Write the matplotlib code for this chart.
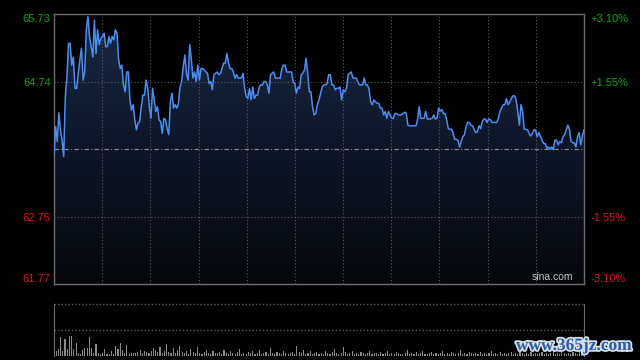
import numpy as np
import matplotlib.pyplot as plt
import matplotlib.patheffects as pe
from matplotlib.colors import LinearSegmentedColormap

# intraday price (open -> close)
prices = [
    63.64, 64.08, 63.86, 64.28, 64.03, 63.88, 63.64, 64.52, 64.81, 65.30,
    65.30, 64.98, 65.10, 64.64, 64.64, 64.86, 65.06, 65.23, 64.76, 64.88,
    65.50, 65.69, 65.40, 65.25, 65.10, 65.64, 65.15, 65.50, 65.28, 65.37,
    65.40, 65.45, 65.25, 65.25, 65.40, 65.30, 65.40, 65.35, 65.50, 65.45,
    65.06, 64.93, 64.98, 64.69, 64.59, 64.88, 64.88, 64.47, 64.32, 64.40,
    64.18, 64.03, 64.13, 64.15, 64.37, 64.54, 64.54, 64.76, 64.64, 64.37,
    64.20, 64.64, 64.47, 64.30, 64.37,
    64.18, 64.15, 63.98, 64.20, 64.18, 64.05, 63.96, 64.44, 64.57, 64.35,
    64.40, 64.35, 64.42, 64.66, 64.74, 64.96, 65.13, 64.86, 64.76, 65.28,
    65.06, 64.79, 64.88, 64.74, 64.98, 64.76, 64.93, 64.93, 64.91, 64.88,
    64.86, 64.71, 64.74, 64.62, 64.84, 64.86, 64.88, 64.84, 64.86, 64.93,
    65.01, 65.01, 65.15, 65.01, 64.93, 64.93, 64.88, 64.79, 64.84, 64.79,
    64.79, 64.79, 64.86, 64.64, 64.52, 64.49, 64.64, 64.47, 64.66, 64.49,
    64.54, 64.54, 64.66, 64.69, 64.69, 64.74, 64.74,
    64.69, 64.57, 64.84, 64.86, 64.88, 64.79, 64.79, 64.79, 64.79, 64.93,
    64.98, 64.98, 64.88, 64.88, 64.88, 64.88, 64.74, 64.71, 64.57, 64.66,
    64.64, 64.84, 64.86, 64.91, 65.08, 64.86, 64.59, 64.59, 64.37, 64.25,
    64.27, 64.40, 64.47, 64.57, 64.66, 64.69, 64.69, 64.71, 64.84, 64.84,
    64.69, 64.69, 64.62, 64.64, 64.64, 64.66, 64.47, 64.62, 64.59, 64.64,
    64.84, 64.86, 64.88, 64.79, 64.79, 64.79, 64.74, 64.69, 64.69, 64.69,
    64.79, 64.69, 64.69, 64.62, 64.44, 64.40, 64.47, 64.44, 64.42, 64.42,
    64.35,
    64.35, 64.25, 64.30, 64.20, 64.30, 64.25, 64.20, 64.20, 64.27, 64.27,
    64.25, 64.25, 64.25, 64.27, 64.29, 64.27, 64.10, 64.09, 64.09, 64.09,
    64.09, 64.09, 64.18, 64.37, 64.20, 64.20, 64.20, 64.30, 64.19, 64.19,
    64.19, 64.20, 64.25, 64.19, 64.20, 64.35, 64.30, 64.33, 64.27, 64.27,
    64.18, 64.05, 64.04, 64.04, 63.98, 63.89, 63.89, 63.88, 63.78, 63.86,
    63.93, 63.96, 64.08, 64.14, 64.14, 64.10, 64.09, 64.04, 63.99, 64.00,
    64.09, 64.05,
    64.15, 64.19, 64.19, 64.14, 64.19, 64.18, 64.14, 64.14, 64.14, 64.14,
    64.20, 64.30, 64.35, 64.40, 64.40, 64.49, 64.40, 64.44, 64.49, 64.53,
    64.53, 64.47, 64.30, 64.10, 64.40, 64.30, 64.04, 64.04, 64.03, 63.98,
    63.94, 63.98, 64.03, 64.03, 63.93, 63.99, 63.94, 63.88, 63.83, 63.83,
    63.76, 63.78, 63.75, 63.78, 63.74, 63.88, 63.88, 63.81, 63.86, 63.84,
    63.93, 63.96, 64.03, 64.10, 64.04, 63.86, 63.84, 63.84, 63.78, 63.93,
    63.99, 63.81, 63.94, 64.03,
]

# per-minute volume (relative)
volumes = [
    52, 5, 7, 19, 5, 17, 7, 20, 20, 7, 13, 3, 2, 6, 8, 8, 19, 8, 3, 12,
    3, 2, 3, 7, 2, 2, 5, 2, 10, 7, 13, 6, 3, 11, 2, 3, 3, 3, 4, 6,
    3, 5, 4, 3, 5, 8, 6,
    4, 9, 3, 5, 12, 4, 3, 8, 3, 6, 10, 4, 3, 5, 2, 7, 4, 3, 9, 3,
    2, 4, 6, 3, 2, 5, 3,
    3, 4, 2, 6, 3, 2, 5, 3, 2, 4, 7, 2, 3, 2, 4, 3, 5, 2, 3, 6,
    2, 3, 4, 2, 8, 3, 2, 4, 3, 2, 5, 3, 2, 3, 4, 2,
    10, 4, 3, 6, 2, 3, 5, 2, 3, 4, 2, 3, 2, 5, 3, 2, 4, 7, 3, 2,
    3, 9, 4, 2, 3, 5, 2, 3, 2, 4, 3, 2, 3, 5, 2, 3,
    3, 2, 4, 2, 3, 5, 2, 3, 2, 4, 3, 2, 2, 3, 6, 2, 3, 2, 4, 2,
    3, 5, 2, 2, 3, 4, 2, 3, 2, 3, 5, 2, 3, 2, 4, 3, 2, 3, 6, 2,
    3, 2, 4, 3, 2,
    3, 2, 4, 2, 3, 2, 3, 5, 2, 3, 2, 4, 2, 3, 2, 3, 4, 2, 3, 2,
    5, 3, 2, 3, 2, 4, 2, 3, 2, 3, 4, 2, 3, 2, 3, 5, 2, 3, 2, 4,
    3, 2, 3, 2, 4, 3, 2, 5, 3, 4,
]

prev_close = 63.75
price_ticks = [65.73, 64.74, 63.75, 62.76, 61.77]
left_labels = ['65.73', '64.74', '', '62.76', '61.77']
right_labels = ['+3.10%', '+1.55%', '', '-1.55%', '-3.10%']

up_color = '#12a012'
down_color = '#d81818'
grid_color = '#5c5c5c'
frame_color = '#6c6c6c'

plt.rcParams['font.family'] = ['Liberation Sans', 'DejaVu Sans']

fig = plt.figure(figsize=(6.4, 3.6), dpi=100, facecolor='black')
ax = fig.add_axes([54/640, 76/360, 530/640, 270/360], facecolor='black')
axv = fig.add_axes([54/640, 4/360, 530/640, 52/360], facecolor='black')

t = np.linspace(0, 240, len(prices))
ax.set_xlim(0, 240)
ax.set_ylim(price_ticks[-1], price_ticks[0])

# gradient fill under the price line
fill = ax.fill_between(t, prices, price_ticks[-1], color='none')
cmap = LinearSegmentedColormap.from_list('fade', ['#05070b', '#0e1628', '#1a2944'])
grad = np.linspace(0, 1, 256).reshape(-1, 1)
img = ax.imshow(grad, cmap=cmap, aspect='auto', origin='lower',
                extent=[0, 240, price_ticks[-1], max(prices)], zorder=1)
img.set_clip_path(fill.get_paths()[0], transform=ax.transData)
ax.set_ylim(price_ticks[-1], price_ticks[0])

ax.plot(t, prices, color='#4b8df0', lw=1.1, zorder=3)

# grid
for gx in np.linspace(0, 240, 12)[1:-1]:
    ax.axvline(gx, color=grid_color, lw=0.8, ls=(0, (1, 2)), zorder=2)
for gy in [price_ticks[1], price_ticks[3]]:
    ax.axhline(gy, color=grid_color, lw=0.8, ls=(0, (1, 2)), zorder=2)
ax.axhline(prev_close, color='#8e8e8e', lw=0.8, ls=(0, (4, 2, 1, 2)), zorder=2)

for s in ax.spines.values():
    s.set_color(frame_color)
    s.set_linewidth(1)
ax.set_xticks([])

ax.set_yticks(price_ticks)
ax.set_yticklabels(left_labels)
ax.tick_params(axis='y', length=0, pad=2.5, labelsize=8)
colors = [up_color, up_color, up_color, down_color, down_color]
for lab, c in zip(ax.get_yticklabels(), colors):
    lab.set_color(c)
ax.get_yticklabels()[0].set_verticalalignment('top')
ax.get_yticklabels()[-1].set_verticalalignment('bottom')

axr = ax.twinx()
axr.set_ylim(ax.get_ylim())
axr.set_yticks(price_ticks)
axr.set_yticklabels(right_labels)
axr.tick_params(axis='y', length=0, pad=4.5, labelsize=8)
for lab, c in zip(axr.get_yticklabels(), colors):
    lab.set_color(c)
axr.get_yticklabels()[0].set_verticalalignment('top')
axr.get_yticklabels()[-1].set_verticalalignment('bottom')
for s in axr.spines.values():
    s.set_visible(False)

ax.text(0.979, 0.006, 'sina.com', transform=ax.transAxes, ha='right', va='bottom',
        fontsize=7.5, color='#c4c4c4', zorder=4)

# volume panel
tv = np.linspace(0, 240, len(volumes))
axv.bar(tv, volumes, width=0.5, color='#8a8a8a', align='center')
axv.set_xlim(0, 240)
vmax = max(volumes)
axv.set_ylim(0, vmax)
axv.axhline(vmax, color=grid_color, lw=1, ls=(0, (1, 1.5)), clip_on=False)
axv.axhline(vmax / 2, color=grid_color, lw=1, ls=(0, (1, 1.5)))
for side in ['top', 'bottom']:
    axv.spines[side].set_visible(False)
for side in ['left', 'right']:
    axv.spines[side].set_color(frame_color)
axv.set_xticks([])
axv.set_yticks([])

fig.text(574/640, 1 - 346/360, 'www.365jz.com', ha='center', va='center',
         fontsize=12.5, fontweight='bold', family='Liberation Serif', color='#2b5ea8',
         path_effects=[pe.withStroke(linewidth=2.5, foreground='#d8dee6')])

fig.savefig('out.png', dpi=100, facecolor='black')
